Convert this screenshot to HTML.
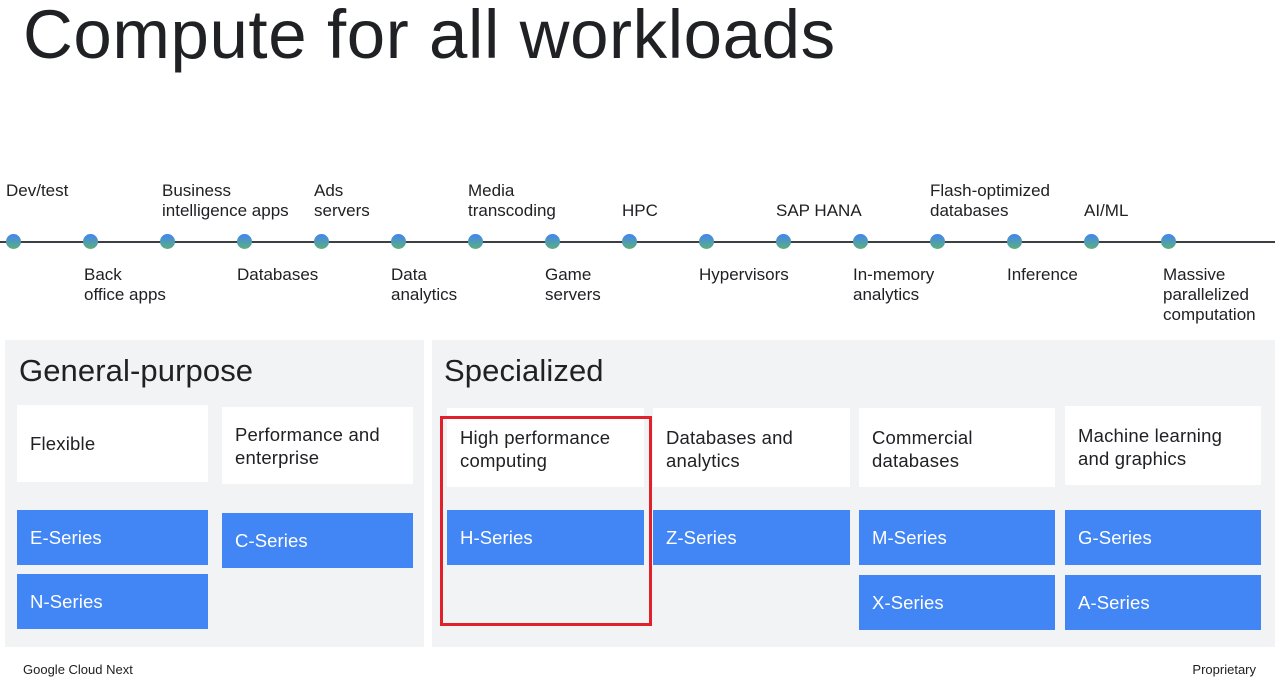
<!DOCTYPE html>
<html><head><meta charset="utf-8"><style>
*{margin:0;padding:0;box-sizing:border-box}
body{width:1280px;height:684px;background:#fff;position:relative;overflow:hidden;font-family:"Liberation Sans",Arial,sans-serif;color:#202124}
.a{position:absolute}
.title{left:23px;top:-5px;font-size:69px;line-height:80px;color:#202124;letter-spacing:0.6px}
.line{left:0;top:241px;width:1275px;height:2px;background:#3c4043}
.dot{width:15px;height:15px;border-radius:50%;top:234px;background:linear-gradient(#4285f4,#5bb07a)}
.lb{font-size:17px;line-height:20px;white-space:nowrap;color:#202124}
.panel{background:#f1f3f4;top:340px;height:307px}
.h{font-size:31px;line-height:34px;top:354px;letter-spacing:0.1px}
.card{background:#fff;font-size:18.5px;line-height:23px;padding-left:13px;display:flex;align-items:center;letter-spacing:0.2px}
.card.t{align-items:flex-start;padding-top:18px}
.blue{background:#4285f4;color:#fff;font-size:18.5px;line-height:55px;padding-left:13px;height:55px;letter-spacing:0.1px}
.red{border:3px solid #e0202a;left:440px;top:416px;width:212px;height:210px}
.ft{font-size:13px;top:662px}
</style></head><body>
<div class="a title">Compute for all workloads</div>
<div class="a line"></div>
<div class="a dot" style="left:6px"></div><div class="a dot" style="left:83px"></div><div class="a dot" style="left:160px"></div><div class="a dot" style="left:237px"></div><div class="a dot" style="left:314px"></div><div class="a dot" style="left:391px"></div><div class="a dot" style="left:468px"></div><div class="a dot" style="left:545px"></div><div class="a dot" style="left:622px"></div><div class="a dot" style="left:699px"></div><div class="a dot" style="left:776px"></div><div class="a dot" style="left:853px"></div><div class="a dot" style="left:930px"></div><div class="a dot" style="left:1007px"></div><div class="a dot" style="left:1084px"></div><div class="a dot" style="left:1161px"></div>

<div class="a lb" style="left:6px;top:181px">Dev/test</div>
<div class="a lb" style="left:162px;top:181px">Business<br>intelligence apps</div>
<div class="a lb" style="left:314px;top:181px">Ads<br>servers</div>
<div class="a lb" style="left:468px;top:181px">Media<br>transcoding</div>
<div class="a lb" style="left:622px;top:201px">HPC</div>
<div class="a lb" style="left:776px;top:201px">SAP HANA</div>
<div class="a lb" style="left:930px;top:181px">Flash-optimized<br>databases</div>
<div class="a lb" style="left:1084px;top:201px">AI/ML</div>

<div class="a lb" style="left:84px;top:265px">Back<br>office apps</div>
<div class="a lb" style="left:237px;top:265px">Databases</div>
<div class="a lb" style="left:391px;top:265px">Data<br>analytics</div>
<div class="a lb" style="left:545px;top:265px">Game<br>servers</div>
<div class="a lb" style="left:699px;top:265px">Hypervisors</div>
<div class="a lb" style="left:853px;top:265px">In-memory<br>analytics</div>
<div class="a lb" style="left:1007px;top:265px">Inference</div>
<div class="a lb" style="left:1163px;top:265px">Massive<br>parallelized<br>computation</div>

<div class="a panel" style="left:5px;width:419px"></div>
<div class="a panel" style="left:432px;width:843px"></div>
<div class="a h" style="left:19px">General-purpose</div>
<div class="a h" style="left:444px">Specialized</div>

<div class="a card" style="left:17px;top:405px;width:191px;height:77px">Flexible</div>
<div class="a card" style="left:222px;top:407px;width:191px;height:77px">Performance and<br>enterprise</div>
<div class="a card t" style="left:447px;top:408px;width:197px;height:79px">High performance<br>computing</div>
<div class="a card t" style="left:653px;top:408px;width:197px;height:79px">Databases and<br>analytics</div>
<div class="a card t" style="left:859px;top:408px;width:196px;height:79px">Commercial<br>databases</div>
<div class="a card t" style="left:1065px;top:406px;width:196px;height:79px">Machine learning<br>and graphics</div>

<div class="a blue" style="left:17px;top:510px;width:191px">E-Series</div>
<div class="a blue" style="left:17px;top:574px;width:191px">N-Series</div>
<div class="a blue" style="left:222px;top:513px;width:191px">C-Series</div>
<div class="a blue" style="left:447px;top:510px;width:197px">H-Series</div>
<div class="a blue" style="left:653px;top:510px;width:197px">Z-Series</div>
<div class="a blue" style="left:859px;top:510px;width:196px">M-Series</div>
<div class="a blue" style="left:859px;top:575px;width:196px">X-Series</div>
<div class="a blue" style="left:1065px;top:510px;width:196px">G-Series</div>
<div class="a blue" style="left:1065px;top:575px;width:196px">A-Series</div>

<div class="a red"></div>
<div class="a ft" style="left:23px">Google Cloud Next</div>
<div class="a ft" style="right:24px">Proprietary</div>
</body></html>
